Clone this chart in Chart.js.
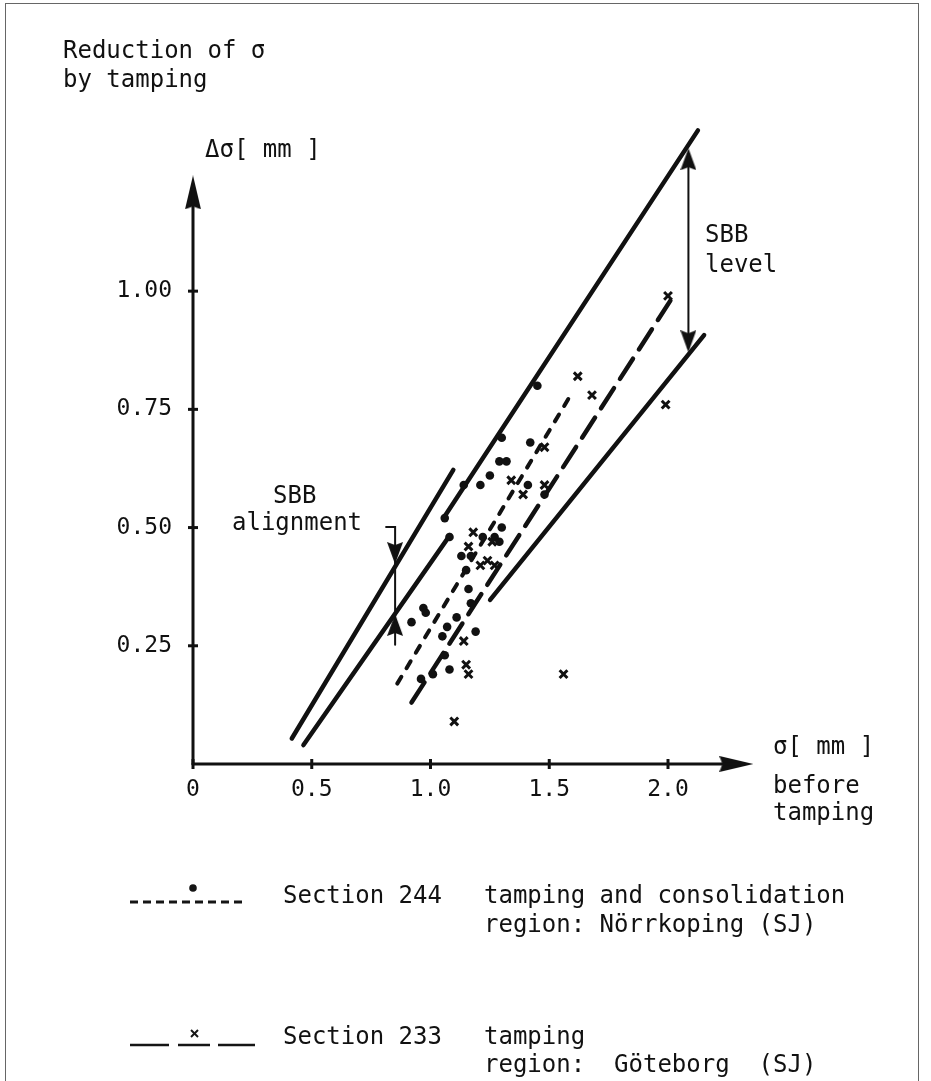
<!DOCTYPE html>
<html>
<head>
<meta charset="utf-8">
<script src="https://cdn.jsdelivr.net/npm/chart.js@4.4.1/dist/chart.umd.min.js"></script>
<style>
  body { margin: 0; background: #fff; overflow: hidden; }
  #wrap { position: relative; width: 931px; height: 1081px; overflow: hidden; background: #fff; }
  #frame { position: absolute; left: 5px; top: 3px; width: 912px; height: 1100px; border: 1.5px solid #666; }
  #chart { position: absolute; left: 0; top: 0; }
  .t { position: absolute; font-family: "DejaVu Sans Mono", monospace; font-size: 24px; line-height: 24px; color: #111; white-space: pre; }
  svg { position: absolute; }
</style>
</head>
<body>
<div id="wrap">
  <div id="frame"></div>
  <canvas id="chart" width="931" height="1081"></canvas>

  <div class="t" style="left:63px;top:38px">Reduction of σ</div>
  <div class="t" style="left:63px;top:67px">by tamping</div>
  <div class="t" style="left:205px;top:137px">Δσ[ mm ]</div>
  <div class="t" style="left:773px;top:734px">σ[ mm ]</div>
  <div class="t" style="left:773px;top:773px">before</div>
  <div class="t" style="left:773px;top:800px">tamping</div>
  <div class="t" style="left:705px;top:222px">SBB</div>
  <div class="t" style="left:705px;top:252px">level</div>
  <div class="t" style="left:273px;top:483px">SBB</div>
  <div class="t" style="left:232px;top:510px">alignment</div>

  <svg style="left:125px;top:880px" width="130" height="32">
    <line x1="5" y1="22" x2="120" y2="22" stroke="#151515" stroke-width="3" stroke-dasharray="8 5"/>
    <circle cx="68" cy="8" r="3.8" fill="#151515"/>
  </svg>
  <div class="t" style="left:283px;top:883px">Section 244</div>
  <div class="t" style="left:484px;top:883px">tamping and consolidation</div>
  <div class="t" style="left:484px;top:912px">region: Nörrkoping (SJ)</div>

  <svg style="left:125px;top:1018px" width="140" height="32">
    <line x1="5" y1="27" x2="44" y2="27" stroke="#151515" stroke-width="2.5"/>
    <line x1="53" y1="27" x2="85" y2="27" stroke="#151515" stroke-width="2.5"/>
    <line x1="93" y1="27" x2="130" y2="27" stroke="#151515" stroke-width="2.5"/>
    <line x1="66" y1="12" x2="73" y2="19" stroke="#151515" stroke-width="2"/>
    <line x1="73" y1="12" x2="66" y2="19" stroke="#151515" stroke-width="2"/>
  </svg>
  <div class="t" style="left:283px;top:1024px">Section 233</div>
  <div class="t" style="left:484px;top:1024px">tamping</div>
  <div class="t" style="left:484px;top:1052px">region:  Göteborg  (SJ)</div>
</div>

<script>
// axis ticks
var xTickValues = [0, 0.5, 1.0, 1.5, 2.0];
var xTickLabels = ["0", "0.5", "1.0", "1.5", "2.0"];
var yTickValues = [0.25, 0.5, 0.75, 1.0];
var yTickLabels = ["0.25", "0.50", "0.75", "1.00"];

// Section 244 - tamping and consolidation (dots)
var sec244X = [1.45, 1.30, 1.42, 1.29, 1.32, 1.25, 1.21, 1.14, 1.41, 1.48, 1.08, 1.06, 1.22, 1.27, 1.30, 1.29,
               1.13, 1.17, 1.15, 1.16, 1.17, 0.97, 0.98, 0.92, 1.11, 1.07, 1.05, 1.19, 1.08, 1.06, 1.01, 0.96];
var sec244Y = [0.80, 0.69, 0.68, 0.64, 0.64, 0.61, 0.59, 0.59, 0.59, 0.57, 0.48, 0.52, 0.48, 0.48, 0.50, 0.47,
               0.44, 0.44, 0.41, 0.37, 0.34, 0.33, 0.32, 0.30, 0.31, 0.29, 0.27, 0.28, 0.20, 0.23, 0.19, 0.18];

// Section 233 - tamping (crosses)
var sec233X = [2.00, 1.62, 1.68, 1.99, 1.48, 1.34, 1.39, 1.48, 1.18, 1.16, 1.26, 1.21, 1.24, 1.27, 1.14, 1.15, 1.16, 1.10, 1.56];
var sec233Y = [0.99, 0.82, 0.78, 0.76, 0.67, 0.60, 0.57, 0.59, 0.49, 0.46, 0.47, 0.42, 0.43, 0.42, 0.26, 0.21, 0.19, 0.09, 0.19];

// regression lines
var fit244 = [[0.86, 0.17], [1.59, 0.78]];
var fit233 = [[0.92, 0.13], [2.01, 0.98]];

// SBB bands
var alignUpper = [[0.416, 0.054], [1.096, 0.622]];
var alignLower = [[0.465, 0.040], [1.082, 0.484]];
var levelUpper = [[1.057, 0.522], [2.126, 1.340]];
var levelLower = [[1.251, 0.347], [2.152, 0.907]];

// annotation arrows
var alignArrow = [[0.813, 0.501], [0.851, 0.501], [0.851, 0.252]];
var alignHeadDown = [[0.851, 0.446]];
var alignHeadUp = [[0.851, 0.294]];
var levelArrow = [[2.086, 1.29], [2.086, 0.88]];
var levelHeadUp = [[2.086, 1.279]];
var levelHeadDown = [[2.086, 0.894]];

// axes
var xAxisLine = [[0, 0], [2.30, 0]];
var yAxisLine = [[0, 0], [0, 1.22]];
var xAxisHead = [[2.288, 0]];
var yAxisHead = [[0, 1.209]];

var ink = "#111";
var mono = "DejaVu Sans Mono";

function arrowHead(w, h) {
    var c = document.createElement("canvas");
    c.width = w;
    c.height = h;
    var g = c.getContext("2d");
    g.fillStyle = ink;
    g.beginPath();
    g.moveTo(w / 2, 0);
    g.lineTo(w, h);
    g.lineTo(w / 2, h - 3);
    g.lineTo(0, h);
    g.closePath();
    g.fill();
    return c;
}
var bigHead = arrowHead(16, 34);
var smallHead = arrowHead(16, 22);

function pts(xs, ys) {
    return xs.map(function (x, i) { return { x: x, y: ys[i] }; });
}
function seg(list) {
    return list.map(function (p) { return { x: p[0], y: p[1] }; });
}

function line(list, width, dash) {
    return {
        data: seg(list),
        showLine: true,
        borderColor: ink,
        borderWidth: width,
        borderDash: dash || [],
        borderCapStyle: "round",
        pointRadius: 0,
        clip: false,
    };
}
function head(list, img, rot) {
    return {
        data: seg(list),
        pointStyle: img,
        pointRotation: rot,
        pointRadius: 8,
        clip: false,
    };
}

var tickMarksX = xTickValues.map(function (v) { return [v, 0]; });
var tickMarksY = yTickValues.map(function (v) { return [0, v]; });

var ctx = document.getElementById("chart").getContext("2d");

var config = {
    type: "scatter",
    data: {
        datasets: [
            {
                label: "Section 244",
                data: pts(sec244X, sec244Y),
                pointStyle: "circle",
                pointRadius: 4.3,
                pointBackgroundColor: ink,
                pointBorderWidth: 0,
                clip: false,
            },
            {
                label: "Section 233",
                data: pts(sec233X, sec233Y),
                pointStyle: "crossRot",
                pointRadius: 5.5,
                pointBorderColor: ink,
                pointBorderWidth: 3,
                clip: false,
            },
            line(fit244, 4, [8, 10]),
            line(fit233, 4.5, [24, 11]),
            line(alignUpper, 4.5),
            line(alignLower, 4.5),
            line(levelUpper, 4.5),
            line(levelLower, 4.5),
            line(alignArrow, 2),
            line(levelArrow, 2),
            head(alignHeadDown, smallHead, 180),
            head(alignHeadUp, smallHead, 0),
            head(levelHeadUp, smallHead, 0),
            head(levelHeadDown, smallHead, 180),
            line(xAxisLine, 3),
            line(yAxisLine, 3),
            head(xAxisHead, bigHead, 90),
            head(yAxisHead, bigHead, 0),
            {
                data: seg(tickMarksX),
                pointStyle: "line",
                pointRotation: 90,
                pointRadius: 5,
                pointBorderColor: ink,
                pointBorderWidth: 3,
                clip: false,
            },
            {
                data: seg(tickMarksY),
                pointStyle: "line",
                pointRadius: 5,
                pointBorderColor: ink,
                pointBorderWidth: 3,
                clip: false,
            },
        ],
    },
    options: {
        responsive: false,
        animation: false,
        events: [],
        devicePixelRatio: 1,
        layout: {
            padding: { left: 0, right: 177.5, top: 102, bottom: 257 },
        },
        plugins: {
            legend: { display: false },
            tooltip: { enabled: false },
        },
        scales: {
            x: {
                type: "linear",
                min: 0,
                max: 2.36,
                border: { display: false },
                grid: { display: false, drawTicks: false },
                afterBuildTicks: function (scale) {
                    scale.ticks = xTickValues.map(function (v) { return { value: v }; });
                },
                afterFit: function (scale) {
                    scale.height = 60;
                },
                ticks: {
                    padding: 12,
                    autoSkip: false,
                    maxRotation: 0,
                    color: ink,
                    font: { family: mono, size: 23 },
                    callback: function (value, index) {
                        return xTickLabels[index];
                    },
                },
            },
            y: {
                type: "linear",
                min: 0,
                max: 1.40,
                border: { display: false },
                grid: { display: false, drawTicks: false },
                afterBuildTicks: function (scale) {
                    scale.ticks = yTickValues.map(function (v) { return { value: v }; });
                },
                afterFit: function (scale) {
                    scale.width = 193;
                },
                ticks: {
                    padding: 21,
                    autoSkip: false,
                    color: ink,
                    font: { family: mono, size: 23 },
                    callback: function (value, index) {
                        return yTickLabels[index];
                    },
                },
            },
        },
    },
};

var sketch = new Chart(ctx, config);
</script>
</body>
</html>
